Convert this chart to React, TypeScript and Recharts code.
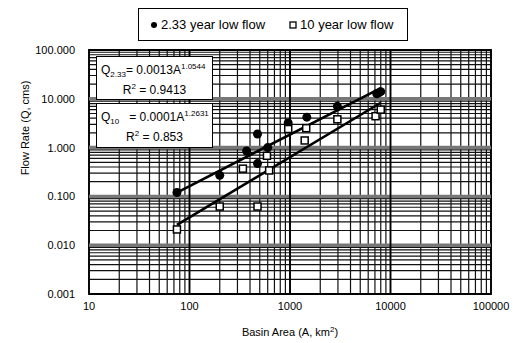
import React from "react";
import {
  ScatterChart,
  Scatter,
  XAxis,
  YAxis,
  CartesianGrid,
  ReferenceLine,
  ReferenceArea,
} from "recharts";

// observed points, 2.33 year low flow
const area233 = [75, 200, 370, 475, 475, 600, 960, 1470, 2960, 7300, 8000];
const flow233 = [0.12, 0.27, 0.85, 0.47, 1.9, 1.0, 3.2, 4.2, 7.0, 12.7, 14.0];

// observed points, 10 year low flow
const area10 = [75, 200, 340, 475, 590, 620, 960, 1400, 1450, 2960, 7100, 8000];
const flow10 = [0.021, 0.062, 0.37, 0.062, 0.68, 0.34, 2.4, 1.4, 2.5, 3.8, 4.4, 6.0];

// power trend lines, end points
const trendArea = [75, 8000];
const trend233 = [0.12, 16.5];
const trend10 = [0.026, 8.3];

const xDecades = [10, 100, 1000, 10000, 100000];
const yDecades = [0.001, 0.01, 0.1, 1, 10, 100];

const FONT = "'Liberation Sans', Arial, sans-serif";

const withMinors = (decades) => {
  const out = [];
  decades.slice(0, -1).forEach((d) => {
    for (let m = 1; m <= 9; m++) out.push(m * d);
  });
  out.push(decades[decades.length - 1]);
  return out;
};
const xTicks = withMinors(xDecades);
const yTicks = withMinors(yDecades);

const isDecade = (v) => Math.abs(Math.log10(v) - Math.round(Math.log10(v))) < 1e-9;

const toPoints = (xs, ys) => xs.map((x, i) => ({ area: x, flow: ys[i] }));
const pts233 = toPoints(area233, flow233);
const pts10 = toPoints(area10, flow10);
const line233 = toPoints(trendArea, trend233);
const line10 = toPoints(trendArea, trend10);

const Dot = ({ cx, cy }) => <circle cx={cx} cy={cy} r={4.5} fill="#000" />;
const Box = ({ cx, cy }) => (
  <rect x={cx - 3.5} y={cy - 3.5} width={7} height={7} fill="#fff" stroke="#000" strokeWidth={1.5} />
);
const NoMark = () => <g />;

const sup = { fontSize: 8, position: "relative", top: -5 };
const sub = { fontSize: 8, position: "relative", top: 3 };

const LegendBox = () => (
  <div
    style={{
      position: "absolute",
      top: 8,
      left: 138,
      width: 270,
      height: 33,
      border: "1px solid #000",
      background: "#fff",
      display: "flex",
      alignItems: "center",
      fontFamily: FONT,
      fontSize: 13,
      color: "#000",
      paddingLeft: 11,
      boxSizing: "border-box",
    }}
  >
    <svg width={8} height={8} style={{ marginRight: 3 }}>
      <circle cx={4} cy={4} r={3} fill="#000" />
    </svg>
    <span>2.33 year low flow</span>
    <svg width={8} height={8} style={{ marginLeft: 24, marginRight: 3 }}>
      <rect x={1} y={1} width={6} height={6} fill="#fff" stroke="#000" strokeWidth={1.3} />
    </svg>
    <span>10 year low flow</span>
  </div>
);

const eqBox = {
  position: "absolute",
  left: 96,
  width: 117,
  background: "#fff",
  border: "1px solid #000",
  fontFamily: FONT,
  fontSize: 12,
  color: "#000",
  boxSizing: "border-box",
  lineHeight: "18px",
  paddingTop: 4,
  whiteSpace: "nowrap",
};

const App = () => {
  return (
    <div style={{ position: "absolute", left: 0, top: 0, width: 515, height: 343, background: "#fff" }}>
      <ScatterChart width={515} height={343} margin={{ top: 50, right: 24, bottom: 0, left: 0 }}>
        <CartesianGrid stroke="#111" strokeWidth={1.2} strokeDasharray="" />
        <XAxis
          dataKey="area"
          type="number"
          scale="log"
          domain={[10, 100000]}
          ticks={xTicks}
          interval={0}
          allowDataOverflow
          axisLine={false}
          tickLine={false}
          height={49}
          tick={{ fill: "#000", fontSize: 11, fontFamily: FONT }}
          tickFormatter={(v) => (isDecade(v) ? String(v) : "")}
          label={{
            content: ({ viewBox }) => (
              <text
                x={viewBox.x + viewBox.width / 2}
                y={viewBox.y + 42}
                textAnchor="middle"
                fontSize={11}
                fontFamily={FONT}
                fill="#000"
              >
                Basin Area (A, km<tspan dy={-4} fontSize={8}>2</tspan>
                <tspan dy={4}>)</tspan>
              </text>
            ),
          }}
        />
        <YAxis
          dataKey="flow"
          type="number"
          scale="log"
          domain={[0.001, 100]}
          ticks={yTicks}
          interval={0}
          allowDataOverflow
          axisLine={false}
          tickLine={false}
          tickMargin={8}
          width={89}
          tick={{ fill: "#000", fontSize: 11, fontFamily: FONT }}
          tickFormatter={(v) => (isDecade(v) ? v.toFixed(3) : "")}
          label={{
            content: ({ viewBox }) => (
              <text
                x={25}
                y={viewBox.y + 78}
                transform={`rotate(-90 25 ${viewBox.y + 78})`}
                textAnchor="middle"
                dominantBaseline="central"
                fontSize={11}
                fontFamily={FONT}
                fill="#000"
              >
                Flow Rate (Q, cms)
              </text>
            ),
          }}
        />
        {yDecades.slice(1, -1).map((v) => (
          <ReferenceLine key={"y" + v} y={v} stroke="#777" strokeWidth={3.5} />
        ))}
        {xDecades.slice(1, -1).map((v) => (
          <ReferenceLine key={"x" + v} x={v} stroke="#000" strokeWidth={1.8} />
        ))}
        <ReferenceArea x1={10} x2={100000} y1={0.001} y2={100} fill="none" stroke="#000" strokeWidth={1.8} />
        <Scatter
          name="2.33 trend"
          data={line233}
          line={{ stroke: "#000", strokeWidth: 2.6 }}
          shape={NoMark}
          legendType="none"
          isAnimationActive={false}
        />
        <Scatter
          name="10 trend"
          data={line10}
          line={{ stroke: "#000", strokeWidth: 2.6 }}
          shape={NoMark}
          legendType="none"
          isAnimationActive={false}
        />
        <Scatter name="2.33 year low flow" data={pts233} shape={Dot} isAnimationActive={false} />
        <Scatter name="10 year low flow" data={pts10} shape={Box} isAnimationActive={false} />
      </ScatterChart>
      <LegendBox />
      <div style={{ ...eqBox, top: 56, height: 44 }}>
        <div style={{ paddingLeft: 4 }}>
          Q<span style={sub}>2.33</span>= 0.0013A<span style={sup}>1.0544</span>
        </div>
        <div style={{ textAlign: "center" }}>
          R<span style={sup}>2</span> = 0.9413
        </div>
      </div>
      <div style={{ ...eqBox, top: 103, height: 45 }}>
        <div style={{ paddingLeft: 4 }}>
          Q<span style={sub}>10</span>&nbsp;&nbsp;&nbsp;= 0.0001A<span style={sup}>1.2631</span>
        </div>
        <div style={{ textAlign: "center" }}>
          R<span style={sup}>2</span> = 0.853
        </div>
      </div>
    </div>
  );
};

export default App;
